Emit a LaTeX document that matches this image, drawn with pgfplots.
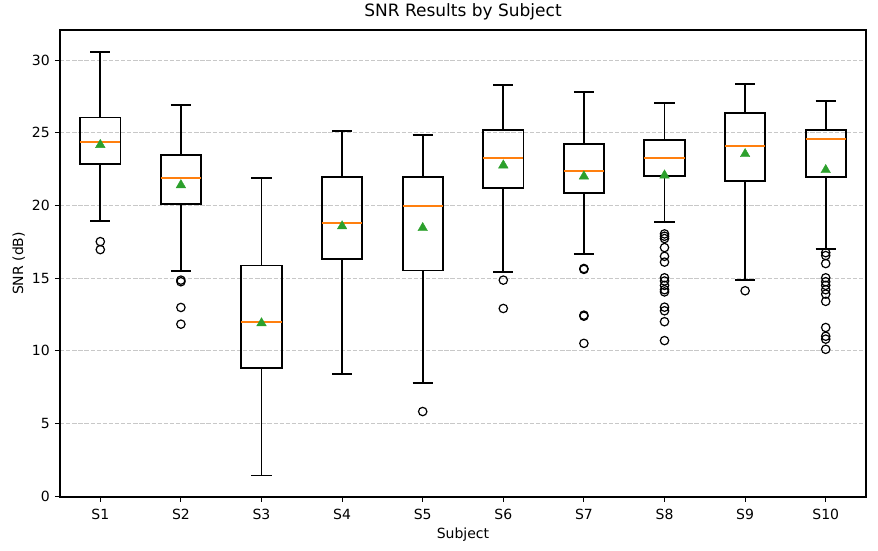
\documentclass[border=0pt]{standalone}
\usepackage{pgfplots}
\pgfplotsset{compat=1.18}
\usepgfplotslibrary{statistics}
\usepackage{fontspec}
\setmainfont{DejaVu Sans}
\definecolor{mplorange}{HTML}{FF7F0E}
\definecolor{mplgreen}{HTML}{2CA02C}
\definecolor{gridgray}{HTML}{C8C8C8}
\begin{document}
\begin{tikzpicture}[x=1bp,y=1bp]
\path[use as bounding box] (-60,-54) rectangle (818,497);
\begin{axis}[
  at={(0,0)}, anchor=south west,
  scale only axis, width=806bp, height=467bp,
  xmin=0.5, xmax=10.5, ymin=-0.06, ymax=32.07,
  xtick={1,...,10}, xticklabels={S1,S2,S3,S4,S5,S6,S7,S8,S9,S10},
  ytick={0,5,...,30},
  tick align=outside, xtick pos=bottom, ytick pos=left,
  major tick length=5bp,
  tick style={black, line width=1.1bp},
  axis line style={line width=1.1bp, black},
  ymajorgrids, major grid style={gridgray, dash pattern=on 4.3bp off 1.8bp, line width=0.8bp},
  /pgf/number format/assume math mode=true,
  ticklabel style={font=\fontsize{14bp}{16bp}\selectfont, text=black},
  yticklabel style={inner sep=0pt, anchor=east, xshift=-5bp},
  xticklabel style={inner sep=0pt, anchor=north, yshift=-7bp},
  label style={font=\fontsize{14bp}{16bp}\selectfont},
  title style={font=\fontsize{17bp}{20bp}\selectfont, at={(axis description cs:0.5,1.0171)}, anchor=base, inner sep=0pt},
  xlabel style={at={(axis description cs:0.5,-0.0878)}, anchor=base, inner sep=0pt},
  ylabel style={at={(axis description cs:-0.0459,0.5)}, anchor=base, inner sep=0pt},
  title={SNR Results by Subject},
  xlabel={Subject}, ylabel={SNR (dB)},
  boxplot/draw direction=y,
  boxplot/box extend=0.5,
  boxplot/whisker extend=0.25,
  boxplot/every median/.style={draw=mplorange, line width=1.9bp},
  boxplot/every box/.style={draw=black, line width=1.9bp},
  boxplot/every whisker/.style={draw=black, line width=1.9bp},
]
% boxes
\addplot[black, line width=1.9bp, mark=none, boxplot prepared={draw position=1, lower whisker=18.91, lower quartile=22.85, median=24.38, upper quartile=26.05, upper whisker=30.58}] coordinates {};
\addplot[black, line width=1.9bp, mark=none, boxplot prepared={draw position=2, lower whisker=15.50, lower quartile=20.08, median=21.86, upper quartile=23.47, upper whisker=26.90}] coordinates {};
\addplot[black, line width=1.9bp, mark=none, boxplot prepared={draw position=3, lower whisker=1.42, lower quartile=8.84, median=11.97, upper quartile=15.87, upper whisker=21.86}] coordinates {};
\addplot[black, line width=1.9bp, mark=none, boxplot prepared={draw position=4, lower whisker=8.42, lower quartile=16.30, median=18.80, upper quartile=21.96, upper whisker=25.14}] coordinates {};
\addplot[black, line width=1.9bp, mark=none, boxplot prepared={draw position=5, lower whisker=7.78, lower quartile=15.52, median=19.99, upper quartile=21.96, upper whisker=24.84}] coordinates {};
\addplot[black, line width=1.9bp, mark=none, boxplot prepared={draw position=6, lower whisker=15.43, lower quartile=21.20, median=23.28, upper quartile=25.20, upper whisker=28.30}] coordinates {};
\addplot[black, line width=1.9bp, mark=none, boxplot prepared={draw position=7, lower whisker=16.67, lower quartile=20.86, median=22.39, upper quartile=24.24, upper whisker=27.79}] coordinates {};
\addplot[black, line width=1.9bp, mark=none, boxplot prepared={draw position=8, lower whisker=18.84, lower quartile=22.00, median=23.28, upper quartile=24.50, upper whisker=27.06}] coordinates {};
\addplot[black, line width=1.9bp, mark=none, boxplot prepared={draw position=9, lower whisker=14.86, lower quartile=21.70, median=24.11, upper quartile=26.33, upper whisker=28.37}] coordinates {};
\addplot[black, line width=1.9bp, mark=none, boxplot prepared={draw position=10, lower whisker=17.01, lower quartile=21.96, median=24.57, upper quartile=25.20, upper whisker=27.20}] coordinates {};
% outliers
\addplot[only marks, mark=o, mark size=4.2bp, black, line width=1.2bp] coordinates {
(1,17.51) (1,16.96)
(2,14.86) (2,14.75) (2,12.98) (2,11.83)
(5,5.82)
(6,14.86) (6,12.91)
(7,15.66) (7,15.60) (7,12.45) (7,12.38) (7,10.51)
(8,18.04) (8,17.88) (8,17.72) (8,17.10) (8,16.50) (8,16.10) (8,15.02) (8,14.80) (8,14.50) (8,14.20) (8,14.05) (8,13.00) (8,12.75) (8,12.00) (8,10.70)
(9,14.13)
(10,16.75) (10,16.55) (10,16.00) (10,15.02) (10,14.75) (10,14.50) (10,14.20) (10,13.90) (10,13.40) (10,11.60) (10,11.00) (10,10.80) (10,10.10)
};
% means
\addplot[only marks, mark=triangle*, mark size=5.5bp, mplgreen, mark options={draw=mplgreen, fill=mplgreen}] coordinates {
(1,24.17) (2,21.40) (3,11.90) (4,18.57) (5,18.45) (6,22.76) (7,22.00) (8,22.07) (9,23.54) (10,22.44)
};
\end{axis}
\end{tikzpicture}
\end{document}
